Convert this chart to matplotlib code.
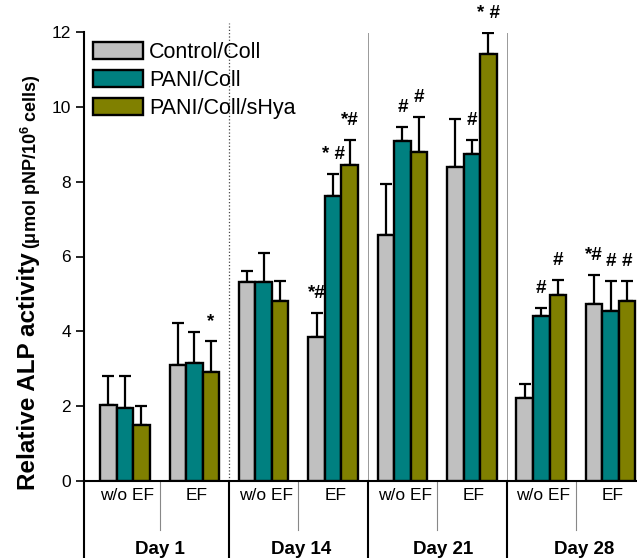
import numpy as np
import matplotlib.pyplot as plt

plt.rcParams['font.family'] = ['Liberation Sans', 'DejaVu Sans']
plt.rcParams['mathtext.fontset'] = 'custom'
plt.rcParams['mathtext.rm'] = 'Liberation Sans'
plt.rcParams['mathtext.bf'] = 'Liberation Sans:bold'

# data
days = ['Day 1', 'Day 14', 'Day 21', 'Day 28']
conds = ['w/o EF', 'EF']
series = ['Control/Coll', 'PANI/Coll', 'PANI/Coll/sHya']

ctrl = [2.03, 3.10, 5.33, 3.85, 6.58, 8.38, 2.22, 4.73]
pani = [1.95, 3.15, 5.33, 7.62, 9.10, 8.75, 4.42, 4.55]
hya = [1.50, 2.92, 4.82, 8.45, 8.80, 11.40, 4.97, 4.82]

ctrl_err = [0.77, 1.12, 0.27, 0.65, 1.37, 1.30, 0.38, 0.77]
pani_err = [0.85, 0.83, 0.77, 0.58, 0.37, 0.37, 0.20, 0.80]
hya_err = [0.50, 0.82, 0.53, 0.67, 0.92, 0.57, 0.41, 0.53]

ctrl_sig = ['', '', '', '*#', '', '', '', '*#']
pani_sig = ['', '', '', '* #', '#', '#', '#', '#']
hya_sig = ['', '*', '', '*#', '#', '* #', '#', '#']

colors = ['#c0c0c0', '#008080', '#808000']

W, H = 637, 558
fig = plt.figure(figsize=(W / 100, H / 100), dpi=100)
ax = fig.add_axes([84 / W, 1 - 481 / H, 1 - 84 / W, (481 - 32) / H])

x = np.arange(len(ctrl))
bw = 0.238
vals = [ctrl, pani, hya]
errs = [ctrl_err, pani_err, hya_err]
sigs = [ctrl_sig, pani_sig, hya_sig]
for i in range(3):
    xs = x + (i - 1) * bw
    e = np.array(errs[i])
    ax.bar(xs, vals[i], bw, color=colors[i], edgecolor='black', linewidth=1.7,
           yerr=[np.zeros_like(e), e], capsize=4.5, label=series[i], zorder=3,
           error_kw=dict(elinewidth=1.6, capthick=1.6, ecolor='black', zorder=2))
    for j in range(len(xs)):
        if sigs[i][j]:
            ax.text(xs[j], vals[i][j] + e[j] + 0.52, sigs[i][j], ha='center', va='center',
                    fontsize=13.5, fontweight='bold', clip_on=False)

ax.set_xlim(-0.59, 7.38)
ax.set_ylim(0, 12)
ax.set_yticks(range(0, 13, 2))
ax.tick_params(axis='y', direction='out', length=6, width=1.2, labelsize=12.5)
ax.set_xticks([])
for s in ['top', 'right']:
    ax.spines[s].set_visible(False)
ax.spines['left'].set_linewidth(1.5)
ax.spines['bottom'].set_linewidth(1.5)

# separators between days
tr = ax.get_xaxis_transform()
ax.plot([1.5, 1.5], [0, 12.25], color='#444444', lw=0.9, ls=':', zorder=1, clip_on=False)
for xv in [3.5, 5.5]:
    ax.plot([xv, xv], [0, 11.98], color='#999999', lw=0.7, zorder=1)

# table below the axis
bot = -77 / 449
ax.plot([-0.59, -0.59], [0, bot], transform=tr, color='black', lw=1.5, clip_on=False)
for xv in [1.5, 3.5, 5.5]:
    ax.plot([xv, xv], [0, bot], transform=tr, color='black', lw=1.5, clip_on=False)
for xv in [0.5, 2.5, 4.5, 6.5]:
    ax.plot([xv, xv], [0, -49 / 449], transform=tr, color='#888888', lw=0.8, clip_on=False)

for j in range(len(ctrl)):
    ax.text(x[j] + 0.03, -14 / 449, conds[j % 2], transform=tr, ha='center', va='center',
            fontsize=12.5, clip_on=False)
for k, d in enumerate(days):
    ax.text(2 * k + 0.5 + 0.04 * k, -68 / 449, d, transform=tr, ha='center', va='center',
            fontsize=13.5, fontweight='bold', clip_on=False)

leg = ax.legend(loc='upper left', bbox_to_anchor=(9 / 553, 0.978), frameon=False,
                fontsize=15.5, handlelength=2.3, handleheight=0.85, handletextpad=0.3,
                labelspacing=0.32, borderaxespad=0, borderpad=0)
for p in leg.get_patches():
    p.set_linewidth(1.7)

fig.text(29 / W, 1 - 490 / H, 'Relative ALP activity', rotation=90, ha='center',
         va='bottom', fontsize=17.5, fontweight='bold')
fig.text(31 / W, 1 - 249 / H, r'(μmol pNP/10$^{\mathbf{6}}$ cells)', rotation=90,
         ha='center', va='bottom', fontsize=13, fontweight='bold')

fig.savefig('out.png', dpi=100)
